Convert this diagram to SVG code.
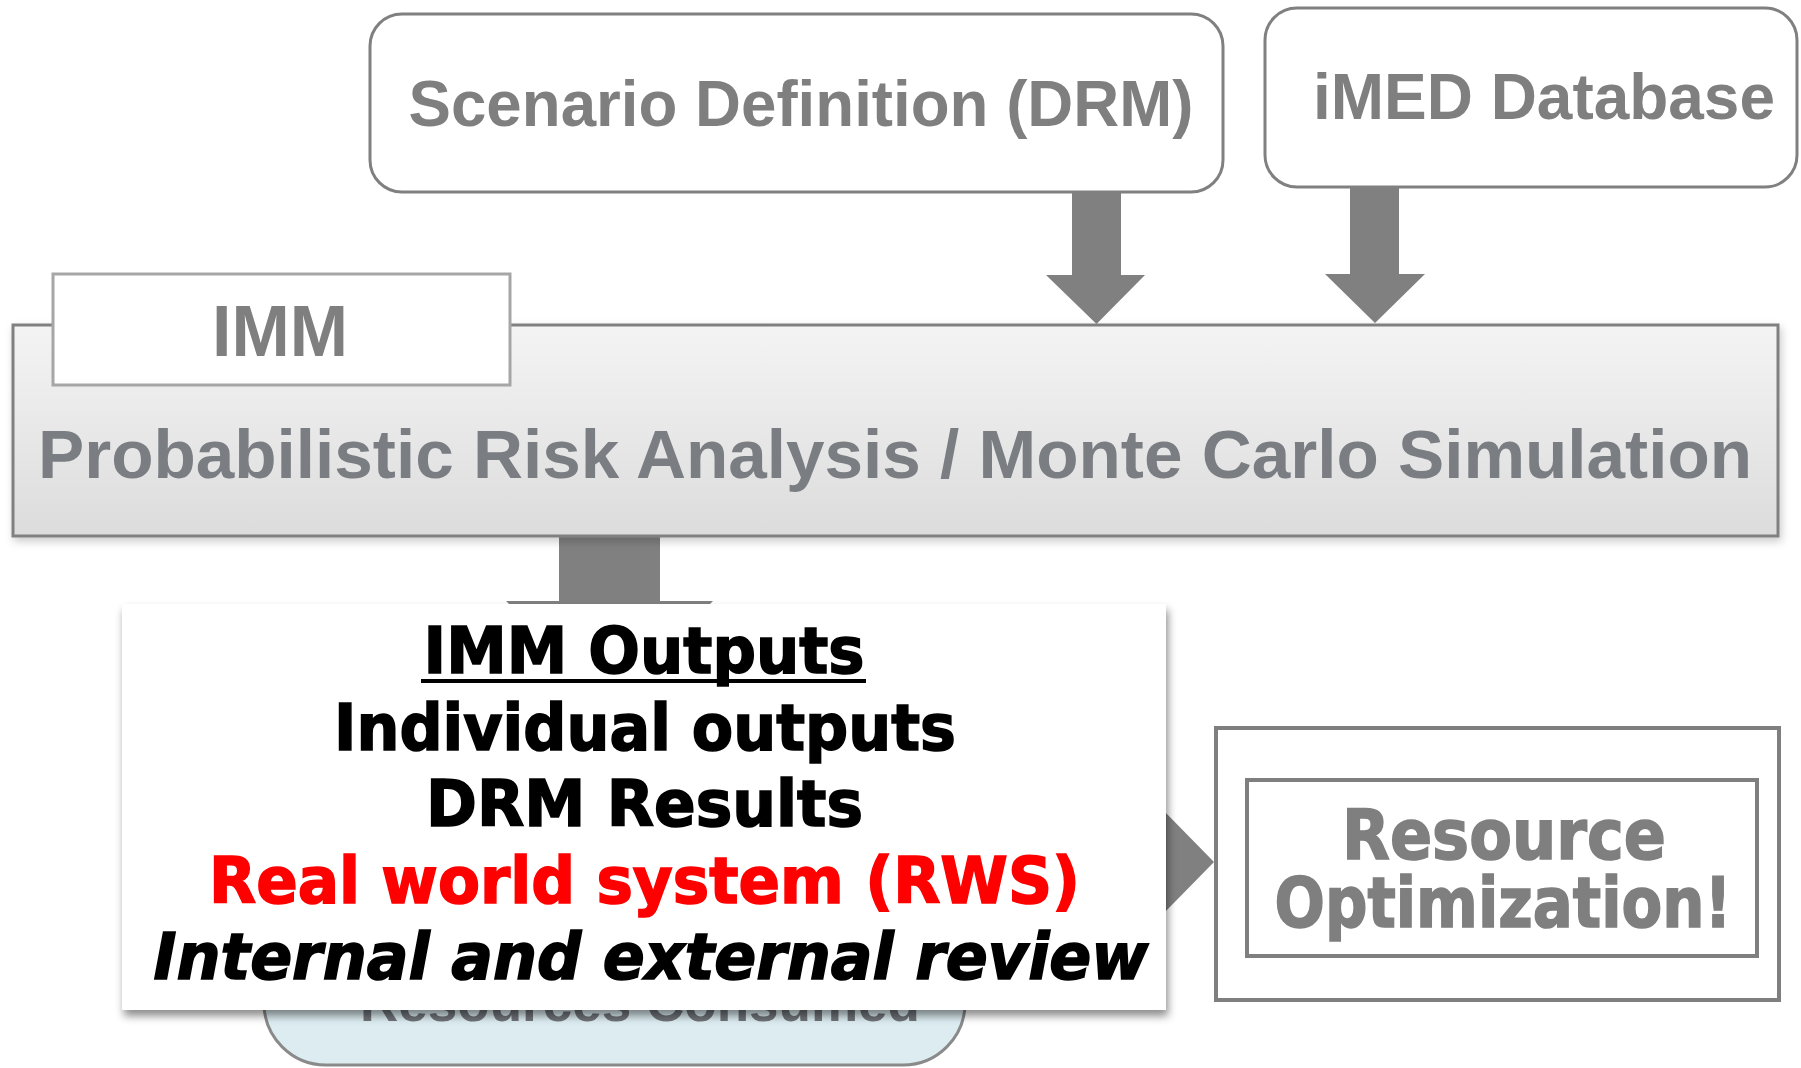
<svg xmlns="http://www.w3.org/2000/svg" width="1801" height="1068" viewBox="0 0 1801 1068">
  <defs>
    <linearGradient id="praGrad" x1="0" y1="0" x2="0" y2="1">
      <stop offset="0" stop-color="#f4f4f4"/>
      <stop offset="1" stop-color="#dcdcdc"/>
    </linearGradient>
    <filter id="shadow" x="-5%" y="-10%" width="110%" height="125%">
      <feDropShadow dx="2" dy="6" stdDeviation="4" flood-color="#000" flood-opacity="0.45"/>
    </filter>
    <filter id="softShadow" x="-5%" y="-10%" width="110%" height="130%">
      <feDropShadow dx="2" dy="4" stdDeviation="4" flood-color="#000" flood-opacity="0.2"/>
    </filter>
  </defs>
  <style>
    .grayText { font-family: "Liberation Sans", Arial, sans-serif; font-weight: bold; fill: #7f7f7f; }
    .blackText { font-family: "DejaVu Sans", Verdana, sans-serif; font-weight: bold; font-size: 64px; fill: #000; stroke: #000; stroke-width: 1.6px; }
    .optText { font-family: "DejaVu Sans", Verdana, sans-serif; font-weight: bold; font-size: 70px; fill: #7f7f7f; stroke: #7f7f7f; stroke-width: 1.6px; }
    .roundBox { fill: #ffffff; stroke: #808080; stroke-width: 3; }
    .arrow { fill: #808080; stroke: none; }
  </style>
  <rect width="1801" height="1068" fill="#ffffff"/>

  <g id="resources-consumed">
    <rect x="264" y="870" width="701" height="195" rx="62" ry="62" fill="#dcecf1" stroke="#8a8a8a" stroke-width="3"/>
    <text class="grayText" x="640" y="1021" font-size="53" text-anchor="middle" style="fill:#6f7479" textLength="560" lengthAdjust="spacingAndGlyphs">Resources Consumed</text>
  </g>

  <g id="connectors">
    <polygon class="arrow" points="1072,192 1121,192 1121,275 1145,275 1096.5,324 1046,275 1072,275"/>
    <polygon class="arrow" points="1350,187 1399,187 1399,274 1425,274 1375,323 1325,274 1350,274"/>
    <polygon class="arrow" points="559,535 660,535 660,601 713,601 609.5,705 506,601 559,601"/>
    <polygon class="arrow" points="1080,837 1165,837 1165,812 1214,862 1165,912 1165,887 1080,887"/>
  </g>

  <g id="scenario-definition">
    <rect class="roundBox" x="370" y="14" width="853" height="178" rx="32" ry="32"/>
    <text class="grayText" x="801" y="126" font-size="64" text-anchor="middle" textLength="785" lengthAdjust="spacingAndGlyphs">Scenario Definition (DRM)</text>
  </g>

  <g id="imed-database">
    <rect class="roundBox" x="1265" y="8" width="532" height="179" rx="32" ry="32"/>
    <text class="grayText" x="1544" y="119" font-size="64" text-anchor="middle" textLength="462" lengthAdjust="spacingAndGlyphs">iMED Database</text>
  </g>

  <g id="pra-monte-carlo">
    <rect x="13" y="325" width="1765" height="211" fill="url(#praGrad)" stroke="#808080" stroke-width="3" filter="url(#softShadow)"/>
    <text class="grayText" x="895" y="478" font-size="69" text-anchor="middle" style="fill:#7a7e83" textLength="1714" lengthAdjust="spacingAndGlyphs">Probabilistic Risk Analysis / Monte Carlo Simulation</text>
  </g>

  <g id="imm-tab">
    <rect x="53" y="274" width="457" height="111" fill="#ffffff" stroke="#a6a6a6" stroke-width="3"/>
    <text class="grayText" x="280" y="356" font-size="72" text-anchor="middle" textLength="136" lengthAdjust="spacingAndGlyphs">IMM</text>
  </g>

  <g id="imm-outputs">
    <rect x="122" y="604" width="1044" height="406" fill="#ffffff" filter="url(#shadow)"/>
    <text class="blackText" x="644" y="673" text-anchor="middle" textLength="441" lengthAdjust="spacingAndGlyphs">IMM Outputs</text>
    <line x1="421" y1="681" x2="866" y2="681" stroke="#000" stroke-width="4"/>
    <text class="blackText" x="645" y="750" text-anchor="middle" textLength="622" lengthAdjust="spacingAndGlyphs">Individual outputs</text>
    <text class="blackText" x="644.5" y="826" text-anchor="middle" textLength="437" lengthAdjust="spacingAndGlyphs">DRM Results</text>
    <text class="blackText" x="644.5" y="903" text-anchor="middle" style="fill:#ff0000;stroke:#ff0000" textLength="871" lengthAdjust="spacingAndGlyphs">Real world system (RWS)</text>
    <text class="blackText" x="651" y="979" text-anchor="middle" font-style="italic" textLength="995" lengthAdjust="spacingAndGlyphs">Internal and external review</text>
  </g>

  <g id="resource-optimization">
    <rect x="1216" y="728" width="563" height="272" fill="#ffffff" stroke="#7f7f7f" stroke-width="4"/>
    <rect x="1247" y="780" width="510" height="176" fill="#ffffff" stroke="#7f7f7f" stroke-width="4"/>
    <text class="optText" x="1504" y="859" text-anchor="middle" textLength="324" lengthAdjust="spacingAndGlyphs">Resource</text>
    <text class="optText" x="1503" y="927" text-anchor="middle" textLength="457" lengthAdjust="spacingAndGlyphs">Optimization!</text>
  </g>
</svg>
